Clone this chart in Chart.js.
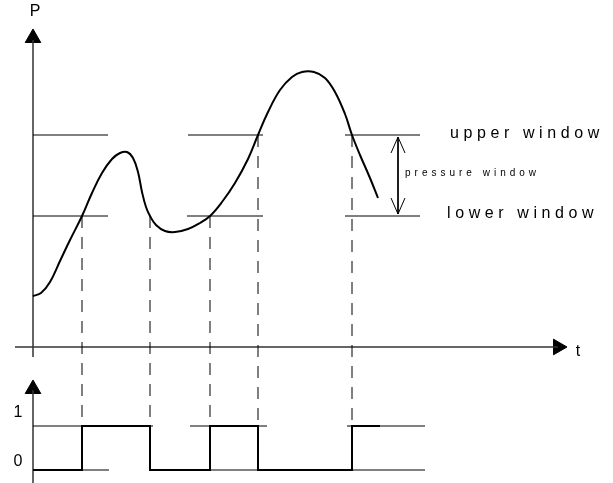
<!DOCTYPE html>
<html>
<head>
<meta charset="utf-8">
<script src="https://cdn.jsdelivr.net/npm/chart.js@4.4.1/dist/chart.umd.min.js"></script>
<style>
  html, body { margin: 0; padding: 0; background: #fff; }
  canvas { display: block; }
</style>
</head>
<body>
<canvas id="c" width="613" height="483"></canvas>
<script>
// schematic units: t runs left to right, P values run top (small) to bottom (large) like the drawing
const curveT = [33, 41, 50, 60, 70, 82, 92, 102, 112, 120, 127, 133, 138, 142, 146, 150, 156, 165, 175, 188, 200, 210, 222, 235, 248, 258, 268, 280, 292, 302, 314, 325, 335, 345, 352, 360, 370, 378];
const curveP = [296, 293, 282, 261, 240, 216, 193, 173, 159, 153, 152, 158, 172, 192, 207, 216, 225, 231, 232, 229, 223, 216, 202, 183, 159, 135, 112, 90, 77, 72, 72, 78, 92, 114, 135, 155, 178, 198];

const upperP = 135;
const lowerP = 216;
const crossings = [82, 150, 210, 258, 352];
const switchState = [0, 1, 0, 1, 0, 1];
const switchEnd = 380;

const axisT0 = 33;
const tAxisP = 347;
const level1 = 426;
const level0 = 470;

// window guide segments [from, to]
const upperSegs = [[33, 108], [188, 263], [345, 420]];
const lowerSegs = [[33, 108], [187, 263], [345, 420]];
const oneSegs = [[33, 153], [190, 267], [347, 425]];
const zeroSegs = [[33, 109], [150, 425]];

const black = '#000';
const axisCol = '#333';

function seg(a, b, opts) {
  return Object.assign({
    type: 'line', data: [a, b], borderColor: black, borderWidth: 1,
    pointRadius: 0, fill: false, tension: 0, clip: false
  }, opts || {});
}

const datasets = [];

// curve
datasets.push({
  type: 'line',
  data: curveT.map((t, i) => ({ x: t, y: curveP[i] })),
  borderColor: black, borderWidth: 2, pointRadius: 0, fill: false,
  tension: 0.4, clip: false
});

upperSegs.forEach(s => datasets.push(seg({ x: s[0], y: upperP }, { x: s[1], y: upperP })));
lowerSegs.forEach(s => datasets.push(seg({ x: s[0], y: lowerP }, { x: s[1], y: lowerP })));
oneSegs.forEach(s => datasets.push(seg({ x: s[0], y: level1 }, { x: s[1], y: level1 })));
zeroSegs.forEach(s => datasets.push(seg({ x: s[0], y: level0 }, { x: s[1], y: level0 })));

// dashed drops from crossings
const crossP = [lowerP, lowerP, lowerP, upperP, upperP];
crossings.forEach((t, i) => datasets.push(seg({ x: t, y: crossP[i] }, { x: t, y: level0 }, { borderDash: [12, 9] })));

// switch signal
const edges = [axisT0].concat(crossings, [switchEnd]);
const sig = [];
for (let i = 0; i < edges.length - 1; i++) {
  const y = switchState[i] ? level1 : level0;
  sig.push({ x: edges[i], y: y }, { x: edges[i + 1], y: y });
}
datasets.push({ type: 'line', data: sig, borderColor: black, borderWidth: 2, pointRadius: 0, fill: false, tension: 0, clip: false });

// axes
datasets.push(seg({ x: axisT0, y: 40 }, { x: axisT0, y: 357 }, { borderWidth: 1.5, borderColor: axisCol }));
datasets.push(seg({ x: 15, y: tAxisP }, { x: 558, y: tAxisP }, { borderWidth: 1.5, borderColor: axisCol }));
datasets.push(seg({ x: axisT0, y: 390 }, { x: axisT0, y: 483 }, { borderWidth: 1.5, borderColor: axisCol }));

// arrow heads
const arrow = (x, y, rot) => ({
  type: 'scatter', data: [{ x: x, y: y }], pointStyle: 'triangle', pointRadius: 9,
  pointRotation: rot, backgroundColor: black, borderColor: black, borderWidth: 1, clip: false
});
datasets.push(arrow(axisT0, 38, 0));
datasets.push(arrow(558, tAxisP, 90));
datasets.push(arrow(axisT0, 389, 0));

// pressure window double arrow
const wx = 398;
datasets.push(seg({ x: wx, y: upperP + 2 }, { x: wx, y: lowerP - 2 }));
datasets.push(seg({ x: wx - 7, y: upperP + 18 }, { x: wx, y: upperP + 2 }));
datasets.push(seg({ x: wx + 7, y: upperP + 18 }, { x: wx, y: upperP + 2 }));
datasets.push(seg({ x: wx - 7, y: lowerP - 18 }, { x: wx, y: lowerP - 2 }));
datasets.push(seg({ x: wx + 7, y: lowerP - 18 }, { x: wx, y: lowerP - 2 }));

const labels = [
  { text: 'P', x: 35, y: 12, size: 16, spacing: 0 },
  { text: 't', x: 578, y: 352, size: 16, spacing: 0 },
  { text: 'upper window', x: 450, y: 134, size: 16, spacing: 4.6, align: 'left' },
  { text: 'lower window', x: 447, y: 214, size: 16, spacing: 4.6, align: 'left' },
  { text: 'pressure window', x: 405, y: 173, size: 10, spacing: 4, align: 'left' },
  { text: '1', x: 18, y: 413, size: 16, spacing: 0 },
  { text: '0', x: 18, y: 462, size: 16, spacing: 0 }
];

const textPlugin = {
  id: 'labels',
  afterDatasetsDraw(chart) {
    const ctx = chart.ctx;
    const xs = chart.scales.x, ys = chart.scales.y;
    ctx.save();
    ctx.fillStyle = black;
    ctx.textBaseline = 'middle';
    labels.forEach(l => {
      ctx.font = l.size + 'px "Liberation Sans", Arial, sans-serif';
      ctx.letterSpacing = l.spacing + 'px';
      ctx.textAlign = l.align || 'center';
      ctx.fillText(l.text, xs.getPixelForValue(l.x), ys.getPixelForValue(l.y));
    });
    ctx.restore();
  }
};

new Chart(document.getElementById('c'), {
  type: 'line',
  data: { datasets: datasets },
  options: {
    responsive: false,
    animation: false,
    layout: { padding: 0, autoPadding: false },
    plugins: { legend: { display: false }, tooltip: { enabled: false } },
    scales: {
      x: { type: 'linear', min: 0, max: 613, display: false },
      y: { type: 'linear', min: 0, max: 483, reverse: true, display: false }
    }
  },
  plugins: [textPlugin]
});
</script>
</body>
</html>
